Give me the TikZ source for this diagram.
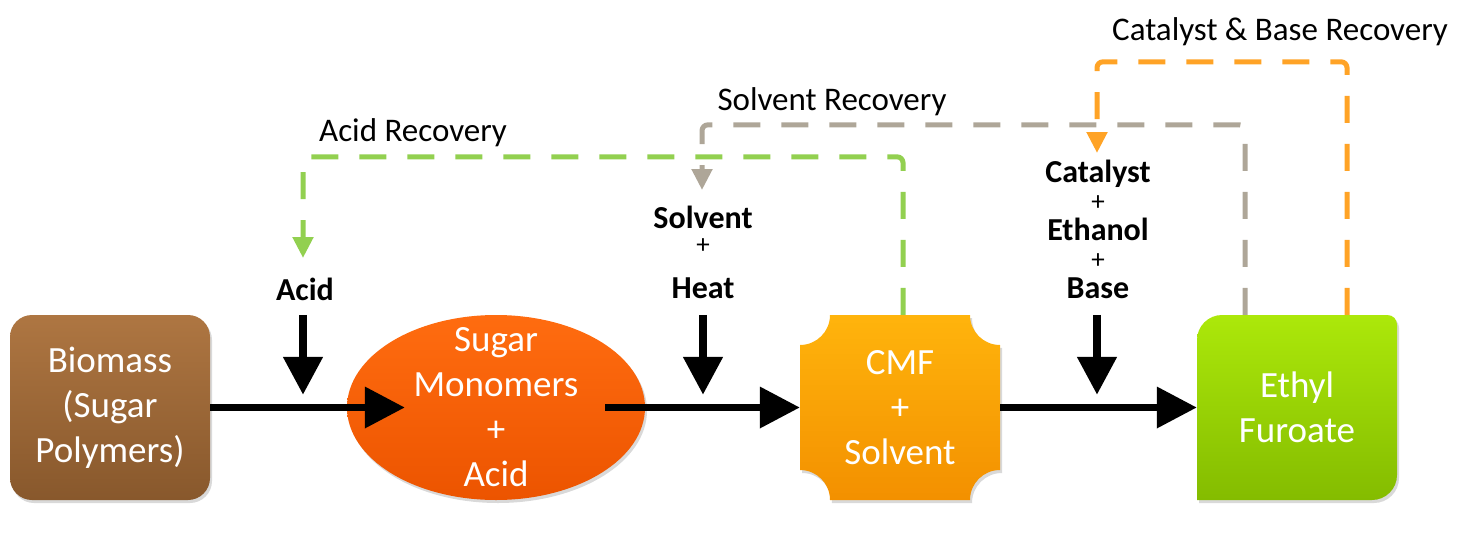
\documentclass[tikz,border=0pt]{standalone}
\usepackage{fontspec}
\setmainfont{Carlito}
\usetikzlibrary{arrows.meta,shapes.geometric,shadows}
\definecolor{bioT}{RGB}{174,118,66}
\definecolor{bioB}{RGB}{136,88,44}
\definecolor{sugT}{RGB}{255,108,16}
\definecolor{sugB}{RGB}{236,84,0}
\definecolor{cmfT}{RGB}{255,180,12}
\definecolor{cmfB}{RGB}{243,144,0}
\definecolor{ethT}{RGB}{172,232,10}
\definecolor{ethB}{RGB}{132,188,0}
\definecolor{accol}{RGB}{146,208,80}
\definecolor{svcol}{RGB}{174,166,152}
\definecolor{cbcol}{RGB}{255,163,38}
\begin{document}
\begin{tikzpicture}[x=1pt,y=-1pt,
  boxtext/.style={text=white, align=center, inner sep=0pt, font=\fontsize{37}{45}\selectfont},
  shapebox/.style={minimum width=200pt, minimum height=185pt, inner sep=0pt},
  flow/.style={line width=7pt, -{Triangle[width=40pt,length=40pt]}},
  inflow/.style={line width=8pt, -{Triangle[width=38pt,length=38pt]}},
  recov/.style={line width=5pt, dash pattern=on 27pt off 21pt, rounded corners=6pt, -{Triangle[width=20pt,length=21pt]}},
  lbl/.style={font=\fontsize{32}{34}\selectfont\bfseries, inner sep=0pt, anchor=base},
  plus/.style={font=\fontsize{27}{29}\selectfont, inner sep=0pt, text height=0.5em, text depth=0pt},
  rlbl/.style={font=\fontsize{33}{35}\selectfont, inner sep=0pt, anchor=base},
  shad/.style={drop shadow={opacity=0.3, shadow xshift=2pt, shadow yshift=-3pt}}
]
\useasboundingbox (0,0) rectangle (1469,535);

% Biomass
\node[shapebox, shad, rounded corners=22pt, top color=bioT, bottom color=bioB] (bio) at (110,407.5) {};
\node[boxtext] (biot) at (bio.center) {Biomass\\(Sugar\\Polymers)};

% Sugar monomers ellipse
\node[ellipse, shad, minimum width=298pt, minimum height=185pt, inner sep=0pt, top color=sugT, bottom color=sugB] (sugar) at (496,407.5) {};
\node[boxtext] (sugart) at (sugar.center) {Sugar\\Monomers\\+\\Acid};

% CMF plaque
\path[shad, top color=cmfT, bottom color=cmfB]
  (830,315) -- (970,315) .. controls (970,331.6) and (983.4,345) .. (1000,345)
  -- (1000,470) .. controls (983.4,470) and (970,483.4) .. (970,500)
  -- (830,500) .. controls (830,483.4) and (816.6,470) .. (800,470)
  -- (800,345) .. controls (816.6,345) and (830,331.6) .. (830,315) -- cycle;
\node[shapebox] (cmf) at (900,407.5) {};
\node[boxtext] (cmft) at (cmf.center) {CMF\\+\\Solvent};

% Ethyl furoate
\path[shad, top color=ethT, bottom color=ethB]
  (1197,500) -- (1197,340) .. controls (1197,326.2) and (1208.2,315) .. (1222,315)
  -- (1387,315) .. controls (1393,315) and (1397,319) .. (1397,325)
  -- (1397,475) .. controls (1397,488.8) and (1385.8,500) .. (1372,500) -- cycle;
\node[shapebox] (eth) at (1297,407.5) {};
\node[boxtext] (etht) at (eth.center) {Ethyl\\Furoate};

% input labels
\node[lbl] (acidl) at (305,300) {Acid};
\node[lbl] (solvl) at (703,228) {Solvent};
\node[plus] (p1) at (703,251) {+};
\node[lbl] (heatl) at (703,298) {Heat};
\node[lbl] (catl) at (1098,182) {Catalyst};
\node[plus] (p2) at (1098,208) {+};
\node[lbl] (etol) at (1098,240) {Ethanol};
\node[plus] (p3) at (1098,266) {+};
\node[lbl] (basel) at (1098,298) {Base};

% recovery labels
\node[rlbl] (acr) at (413,141) {Acid Recovery};
\node[rlbl] (svr) at (832,110) {Solvent Recovery};
\node[rlbl] (cbr) at (1280,41) {Catalyst \& Base Recovery};

% main flow
\draw[flow] (bio.east) -- ([xshift=58pt]sugar.west);
\draw[flow] ([xshift=-40pt]sugar.east) -- (cmf.west);
\draw[flow] (cmf.east) -- (eth.west);

% input arrows
\draw[inflow] ([xshift=-2pt]acidl.south |- bio.north) -- ++(0,80);
\draw[inflow] (heatl.south |- bio.north) -- ++(0,80);
\draw[inflow] ([xshift=-1pt]basel.south |- bio.north) -- ++(0,80);

% recovery loops
\coordinate (acidtip) at (303,258);
\coordinate (solvtip) at (702,190);
\coordinate (cattip) at (1097,153);
\draw[recov, accol] ([xshift=3pt]cmf.north) -- ++(0,-158) -| (acidtip);
\draw[recov, svcol] ([xshift=-52pt]eth.north) -- ++(0,-190) -| (solvtip);
\draw[recov, cbcol] ([xshift=50pt]eth.north) -- ++(0,-253) -| (cattip);
\end{tikzpicture}
\end{document}
